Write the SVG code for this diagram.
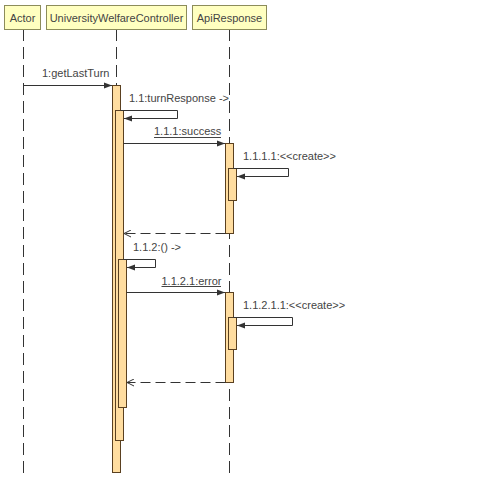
<svg xmlns="http://www.w3.org/2000/svg" width="478" height="479" viewBox="0 0 478 479">
  <style>
    text { font-family: "Liberation Sans", Arial, sans-serif; font-size: 11px; fill: #444; }
    .head { fill: #FFFFC0; stroke: #8C8C5A; stroke-width: 1; }
    .life { stroke: #333; stroke-width: 1; stroke-dasharray: 12 6; fill: none; }
    .bar { fill: #FFDDA0; stroke: #5A4020; stroke-width: 1; }
    .msg { stroke: #333; stroke-width: 1; fill: none; }
    .ret { stroke: #333; stroke-width: 1; fill: none; stroke-dasharray: 10 5; }
    .ul { stroke: #444; stroke-width: 1; }
  </style>
  <defs>
    <marker id="sync" viewBox="0 0 8 8" refX="8" refY="4" markerWidth="8" markerHeight="8" orient="auto" markerUnits="userSpaceOnUse">
      <path d="M0,1 L8,4 L0,7 Z" fill="#333"/>
    </marker>
    <marker id="open" viewBox="0 0 8 8" refX="8" refY="4" markerWidth="8" markerHeight="8" orient="auto" markerUnits="userSpaceOnUse">
      <path d="M1,0.5 L8,4 L1,7.5" fill="none" stroke="#333" stroke-width="1"/>
    </marker>
  </defs>
  <rect width="478" height="479" fill="#fff"/>

  <!-- Lifelines -->
  <g id="lifelines">
    <line class="life" x1="23.5" y1="29" x2="23.5" y2="475"/>
    <line class="life" x1="116.5" y1="29" x2="116.5" y2="475"/>
    <line class="life" x1="229.5" y1="29" x2="229.5" y2="475"/>
  </g>

  <!-- Participants -->
  <g id="actor">
    <rect class="head" x="4.5" y="5.5" width="36" height="24"/>
    <text x="22.5" y="21.5" text-anchor="middle">Actor</text>
  </g>
  <g id="controller">
    <rect class="head" x="46.5" y="5.5" width="140" height="24"/>
    <text x="116.5" y="21.5" text-anchor="middle">UniversityWelfareController</text>
  </g>
  <g id="apiresponse">
    <rect class="head" x="192.5" y="5.5" width="74" height="24"/>
    <text x="229.5" y="21.5" text-anchor="middle">ApiResponse</text>
  </g>

  <!-- Activation bars -->
  <g id="activations">
    <rect class="bar" x="112.5" y="85.5" width="8" height="387"/>
    <rect class="bar" x="115.5" y="110.5" width="8" height="330"/>
    <rect class="bar" x="118.5" y="259.5" width="8" height="148"/>
    <rect class="bar" x="225.5" y="143.5" width="8" height="90"/>
    <rect class="bar" x="228.5" y="168.5" width="8" height="32"/>
    <rect class="bar" x="225.5" y="292.5" width="8" height="90"/>
    <rect class="bar" x="228.5" y="317.5" width="8" height="32"/>
  </g>

  <!-- Messages -->
  <g id="connectors">
    <line class="msg" x1="23.5" y1="85.5" x2="112" y2="85.5" marker-end="url(#sync)"/>
    <polyline class="msg" points="120.5,110.5 177.5,110.5 177.5,118.5 124,118.5" marker-end="url(#sync)"/>
    <line class="msg" x1="123.5" y1="143.5" x2="225" y2="143.5" marker-end="url(#sync)"/>
    <polyline class="msg" points="233.5,168.5 288.5,168.5 288.5,176.5 237,176.5" marker-end="url(#sync)"/>
    <line class="ret" x1="225.5" y1="233.5" x2="124" y2="233.5" marker-end="url(#open)"/>
    <polyline class="msg" points="123.5,259.5 155.5,259.5 155.5,267.5 127,267.5" marker-end="url(#sync)"/>
    <line class="msg" x1="126.5" y1="292.5" x2="225" y2="292.5" marker-end="url(#sync)"/>
    <polyline class="msg" points="233.5,317.5 292.5,317.5 292.5,325.5 237,325.5" marker-end="url(#sync)"/>
    <line class="ret" x1="225.5" y1="382.5" x2="127" y2="382.5" marker-end="url(#open)"/>
  </g>

  <!-- Message labels -->
  <g id="labels">
    <text x="42" y="77">1:getLastTurn</text>
    <text x="129" y="102">1.1:turnResponse -&gt;</text>
    <text x="154" y="135">1.1.1:success</text>
    <line class="ul" x1="154" y1="137.5" x2="221" y2="137.5"/>
    <text x="243" y="159.5">1.1.1.1:&lt;&lt;create&gt;&gt;</text>
    <text x="133" y="251">1.1.2:() -&gt;</text>
    <text x="161.5" y="284.5">1.1.2.1:error</text>
    <line class="ul" x1="161.5" y1="286.5" x2="221" y2="286.5"/>
    <text x="243" y="309">1.1.2.1.1:&lt;&lt;create&gt;&gt;</text>
  </g>
</svg>
